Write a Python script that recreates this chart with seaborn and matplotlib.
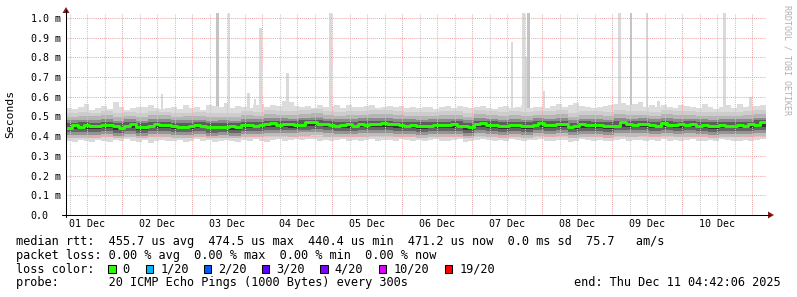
import numpy as np
import pandas as pd
import matplotlib
matplotlib.use("Agg")
import matplotlib.pyplot as plt
import seaborn as sns
from matplotlib.lines import Line2D
from matplotlib.patches import Rectangle, Polygon

# ---------------- data (milliseconds, 2-hour bins from Dec 1 04:42) ----------------
median_rtt = [
    0.443, 0.455, 0.447, 0.455, 0.452, 0.452, 0.455, 0.458, 0.452, 0.441,
    0.450, 0.460, 0.446, 0.449, 0.451, 0.461, 0.455, 0.458, 0.452, 0.449,
    0.449, 0.452, 0.456, 0.452, 0.449, 0.449, 0.449, 0.449, 0.452, 0.445,
    0.458, 0.455, 0.452, 0.458, 0.460, 0.465, 0.458, 0.462, 0.462, 0.456,
    0.458, 0.470, 0.474, 0.460, 0.460, 0.458, 0.453, 0.455, 0.460, 0.452,
    0.460, 0.458, 0.460, 0.462, 0.465, 0.460, 0.460, 0.455, 0.452, 0.458,
    0.452, 0.452, 0.452, 0.458, 0.455, 0.458, 0.462, 0.452, 0.452, 0.445,
    0.460, 0.465, 0.458, 0.458, 0.452, 0.452, 0.455, 0.458, 0.452, 0.452,
    0.455, 0.465, 0.458, 0.458, 0.463, 0.460, 0.447, 0.452, 0.460, 0.455,
    0.455, 0.458, 0.452, 0.452, 0.452, 0.470, 0.460, 0.458, 0.460, 0.460,
    0.458, 0.450, 0.466, 0.458, 0.455, 0.460, 0.458, 0.460, 0.452, 0.456,
    0.452, 0.452, 0.458, 0.452, 0.452, 0.456, 0.452, 0.460, 0.455, 0.471,
]

smoke_top = [
    0.545, 0.540, 0.548, 0.565, 0.535, 0.545, 0.555, 0.540, 0.575, 0.548,
    0.535, 0.545, 0.550, 0.548, 0.560, 0.545, 0.538, 0.545, 0.550, 0.540,
    0.560, 0.545, 0.548, 0.535, 0.560, 0.555, 0.548, 0.570, 0.545, 0.552,
    0.548, 0.545, 0.558, 0.565, 0.548, 0.560, 0.553, 0.580, 0.575, 0.555,
    0.550, 0.555, 0.545, 0.560, 0.548, 0.552, 0.558, 0.545, 0.560, 0.550,
    0.548, 0.555, 0.560, 0.545, 0.550, 0.555, 0.548, 0.552, 0.545, 0.550,
    0.545, 0.548, 0.550, 0.540, 0.548, 0.552, 0.545, 0.555, 0.550, 0.543,
    0.548, 0.552, 0.545, 0.540, 0.548, 0.555, 0.545, 0.550, 0.558, 0.545,
    0.550, 0.548, 0.545, 0.555, 0.565, 0.548, 0.560, 0.570, 0.555, 0.548,
    0.545, 0.550, 0.552, 0.560, 0.565, 0.570, 0.558, 0.562, 0.575, 0.550,
    0.558, 0.548, 0.560, 0.548, 0.545, 0.560, 0.555, 0.548, 0.545, 0.565,
    0.550, 0.540, 0.548, 0.558, 0.545, 0.565, 0.550, 0.555, 0.552, 0.560,
]

smoke_bottom = [
    0.378, 0.372, 0.380, 0.375, 0.370, 0.382, 0.376, 0.372, 0.380, 0.374,
    0.385, 0.376, 0.372, 0.380, 0.368, 0.378, 0.382, 0.374, 0.376, 0.380,
    0.372, 0.378, 0.384, 0.375, 0.380, 0.372, 0.378, 0.382, 0.376, 0.370,
    0.380, 0.376, 0.384, 0.378, 0.372, 0.380, 0.386, 0.378, 0.382, 0.384,
    0.380, 0.388, 0.384, 0.378, 0.382, 0.376, 0.380, 0.384, 0.378, 0.382,
    0.376, 0.380, 0.384, 0.378, 0.382, 0.380, 0.376, 0.384, 0.380, 0.378,
    0.382, 0.376, 0.380, 0.384, 0.378, 0.374, 0.380, 0.384, 0.372, 0.378,
    0.382, 0.386, 0.380, 0.376, 0.382, 0.378, 0.384, 0.380, 0.376, 0.382,
    0.380, 0.384, 0.378, 0.376, 0.382, 0.380, 0.372, 0.378, 0.384, 0.380,
    0.376, 0.382, 0.378, 0.374, 0.380, 0.384, 0.378, 0.382, 0.380, 0.376,
    0.380, 0.376, 0.384, 0.378, 0.382, 0.374, 0.380, 0.384, 0.378, 0.376,
    0.382, 0.378, 0.384, 0.380, 0.374, 0.378, 0.382, 0.376, 0.380, 0.384,
]

# inner smoke levels, 4-hour bins
smoke_u3 = [
    0.518, 0.522, 0.520, 0.527, 0.516, 0.524, 0.518, 0.527, 0.525, 0.520,
    0.519, 0.525, 0.517, 0.520, 0.517, 0.526, 0.524, 0.532, 0.530, 0.528,
    0.534, 0.536, 0.528, 0.524, 0.526, 0.529, 0.531, 0.532, 0.527, 0.524,
    0.522, 0.525, 0.526, 0.527, 0.519, 0.532, 0.528, 0.521, 0.526, 0.522,
    0.530, 0.528, 0.531, 0.519, 0.527, 0.526, 0.522, 0.531, 0.529, 0.530,
    0.524, 0.532, 0.527, 0.529, 0.524, 0.522, 0.525, 0.524, 0.526, 0.533,
]
smoke_u2 = [
    0.500, 0.503, 0.502, 0.508, 0.497, 0.505, 0.498, 0.507, 0.506, 0.500,
    0.501, 0.505, 0.498, 0.500, 0.497, 0.506, 0.505, 0.512, 0.510, 0.508,
    0.514, 0.517, 0.509, 0.504, 0.506, 0.510, 0.511, 0.512, 0.507, 0.505,
    0.502, 0.505, 0.507, 0.507, 0.499, 0.512, 0.508, 0.502, 0.506, 0.502,
    0.510, 0.508, 0.511, 0.500, 0.507, 0.506, 0.502, 0.511, 0.509, 0.510,
    0.504, 0.512, 0.507, 0.509, 0.504, 0.502, 0.505, 0.504, 0.506, 0.513,
]
smoke_u1 = [
    0.480, 0.482, 0.484, 0.487, 0.478, 0.486, 0.479, 0.488, 0.485, 0.481,
    0.482, 0.484, 0.479, 0.481, 0.478, 0.487, 0.486, 0.492, 0.490, 0.489,
    0.494, 0.497, 0.489, 0.485, 0.487, 0.490, 0.491, 0.493, 0.487, 0.486,
    0.483, 0.486, 0.487, 0.488, 0.480, 0.492, 0.489, 0.483, 0.487, 0.483,
    0.490, 0.489, 0.492, 0.481, 0.488, 0.486, 0.483, 0.491, 0.489, 0.491,
    0.485, 0.492, 0.487, 0.489, 0.485, 0.483, 0.486, 0.485, 0.487, 0.494,
]
smoke_u0 = [
    0.467, 0.470, 0.469, 0.474, 0.465, 0.472, 0.466, 0.474, 0.473, 0.468,
    0.468, 0.471, 0.466, 0.467, 0.466, 0.474, 0.472, 0.479, 0.477, 0.476,
    0.481, 0.484, 0.476, 0.472, 0.474, 0.476, 0.479, 0.479, 0.474, 0.473,
    0.470, 0.473, 0.474, 0.475, 0.467, 0.479, 0.476, 0.470, 0.474, 0.470,
    0.477, 0.476, 0.478, 0.468, 0.475, 0.473, 0.470, 0.478, 0.476, 0.477,
    0.472, 0.479, 0.474, 0.476, 0.472, 0.470, 0.473, 0.472, 0.474, 0.481,
]
smoke_l0 = [
    0.435, 0.437, 0.438, 0.441, 0.433, 0.440, 0.434, 0.442, 0.441, 0.436,
    0.436, 0.440, 0.435, 0.435, 0.434, 0.442, 0.441, 0.447, 0.446, 0.444,
    0.450, 0.452, 0.445, 0.440, 0.442, 0.445, 0.447, 0.448, 0.443, 0.441,
    0.438, 0.441, 0.442, 0.443, 0.434, 0.447, 0.444, 0.438, 0.442, 0.438,
    0.446, 0.444, 0.447, 0.435, 0.443, 0.442, 0.438, 0.447, 0.445, 0.446,
    0.440, 0.448, 0.443, 0.445, 0.440, 0.438, 0.441, 0.440, 0.442, 0.448,
]
smoke_l1 = [
    0.419, 0.421, 0.422, 0.426, 0.417, 0.425, 0.418, 0.426, 0.426, 0.420,
    0.420, 0.424, 0.418, 0.419, 0.418, 0.426, 0.425, 0.432, 0.430, 0.429,
    0.434, 0.437, 0.429, 0.424, 0.426, 0.429, 0.431, 0.432, 0.427, 0.425,
    0.422, 0.425, 0.426, 0.427, 0.418, 0.432, 0.428, 0.422, 0.426, 0.422,
    0.430, 0.428, 0.431, 0.419, 0.427, 0.426, 0.422, 0.431, 0.429, 0.430,
    0.424, 0.432, 0.427, 0.429, 0.424, 0.422, 0.425, 0.424, 0.426, 0.433,
]
smoke_l2 = [
    0.404, 0.406, 0.407, 0.411, 0.402, 0.410, 0.403, 0.411, 0.411, 0.405,
    0.405, 0.409, 0.403, 0.404, 0.403, 0.411, 0.410, 0.417, 0.415, 0.414,
    0.419, 0.422, 0.414, 0.409, 0.411, 0.414, 0.416, 0.417, 0.412, 0.410,
    0.407, 0.410, 0.411, 0.412, 0.403, 0.417, 0.413, 0.407, 0.411, 0.407,
    0.415, 0.413, 0.416, 0.404, 0.412, 0.411, 0.407, 0.416, 0.414, 0.415,
    0.409, 0.417, 0.412, 0.414, 0.409, 0.407, 0.410, 0.409, 0.411, 0.418,
]
smoke_l3 = [
    0.391, 0.392, 0.393, 0.396, 0.389, 0.395, 0.390, 0.396, 0.396, 0.391,
    0.391, 0.394, 0.390, 0.390, 0.389, 0.396, 0.395, 0.400, 0.399, 0.398,
    0.402, 0.404, 0.398, 0.394, 0.396, 0.398, 0.400, 0.400, 0.396, 0.395,
    0.392, 0.395, 0.396, 0.396, 0.390, 0.400, 0.397, 0.392, 0.396, 0.392,
    0.399, 0.397, 0.400, 0.390, 0.396, 0.396, 0.392, 0.400, 0.398, 0.399,
    0.394, 0.400, 0.396, 0.398, 0.394, 0.392, 0.395, 0.394, 0.396, 0.401,
]

# outlier columns (hours since Dec 1 00:00, top in ms, dark = several pings high)
spike_hours = [37.6, 56.5, 60.6, 67.4, 69.5, 71.5, 80.5, 95.5, 157.6, 161.4,
               162.4, 163.4, 168.6, 194.6, 198.4, 203.9, 207.7, 230.6, 239.5]
spike_tops = [0.615, 1.03, 1.03, 0.62, 0.59, 0.95, 0.72, 1.03, 0.88, 1.03,
              0.80, 1.03, 0.63, 1.03, 1.03, 1.03, 0.58, 1.03, 0.60]
spike_dark = [0, 1, 0, 0, 0, 0, 0, 0, 0, 0, 0, 1, 0, 0, 1, 0, 0, 0, 0]

day_labels = ["01 Dec", "02 Dec", "03 Dec", "04 Dec", "05 Dec",
              "06 Dec", "07 Dec", "08 Dec", "09 Dec", "10 Dec"]
y_ticks = [0.0, 0.1, 0.2, 0.3, 0.4, 0.5, 0.6, 0.7, 0.8, 0.9, 1.0]
y_labels = ["0.0", "0.1 m", "0.2 m", "0.3 m", "0.4 m", "0.5 m",
            "0.6 m", "0.7 m", "0.8 m", "0.9 m", "1.0 m"]

loss_labels = ["0", "1/20", "2/20", "3/20", "4/20", "10/20", "19/20"]
loss_colors = ["#26ff00", "#00b8ff", "#0059ff", "#5e00ff", "#7e00ff", "#dd00ff", "#ff0000"]

line_rtt = "median rtt:  455.7 us avg  474.5 us max  440.4 us min  471.2 us now  0.0 ms sd  75.7   am/s"
line_loss = "packet loss: 0.00 % avg  0.00 % max  0.00 % min  0.00 % now"
line_color = "loss color:"
line_probe = "probe:       20 ICMP Echo Pings (1000 Bytes) every 300s"
line_end = "end: Thu Dec 11 04:42:06 2025"

# ---------------- figure ----------------
sns.set_theme(style="white")
plt.rcParams["font.family"] = ["DejaVu Sans Mono"]

W, H = 797, 297
def fx(x):
    return x / W
def fy(y):
    return 1 - y / H

fig = plt.figure(figsize=(W / 100, H / 100), dpi=100, facecolor="white")
ax = fig.add_axes([fx(66), fy(215), (766 - 66) / W, (215 - 13) / H])
ax.set_facecolor("white")
for s in ax.spines.values():
    s.set_visible(False)

T0 = 4.7
ax.set_xlim(T0, T0 + 240)
ax.set_ylim(0, (215 - 13) / 197)

n = len(median_rtt)
edges = T0 + 2.0 * np.arange(n + 1)

def ext(a):
    a = np.asarray(a, dtype=float)
    return np.append(a, a[-1])

def ext4(a):
    return ext(np.repeat(np.asarray(a, dtype=float), 2))

# outlier spikes
sp_h = np.asarray(spike_hours)
sp_t = np.asarray(spike_tops)
sp_c = ["#c4c4c4" if d else "#dadada" for d in spike_dark]
ax.bar(sp_h, sp_t - 0.5, bottom=0.5, width=1.0, color=sp_c, linewidth=0, zorder=1)

levels = [ext(smoke_top), ext4(smoke_u3), ext4(smoke_u2), ext4(smoke_u1), ext4(smoke_u0),
          ext(median_rtt), ext4(smoke_l0), ext4(smoke_l1), ext4(smoke_l2), ext4(smoke_l3),
          ext(smoke_bottom)]
shades = ["#dcdcdc", "#cdcdcd", "#b4b4b4", "#8c8c8c", "#5c5c5c",
          "#363636", "#666666", "#949494", "#bdbdbd", "#d9d9d9"]
for i, c in enumerate(shades):
    ax.fill_between(edges, levels[i], levels[i + 1], step="post", color=c,
                    linewidth=0, antialiased=False, zorder=2)

# grid (drawn over the smoke, as rrdtool does)
dot = (0, (1, 1))
for h in range(6, 241, 6):
    if h % 24 == 0:
        ax.axvline(h, color="#eeaaaa", lw=0.75, ls=dot, zorder=3)
    else:
        ax.axvline(h, color="#c8c8c8", lw=0.75, ls=dot, zorder=3)
for v in y_ticks[1:]:
    ax.axhline(v, color="#eeaaaa", lw=0.75, ls=dot, zorder=3)

# median line
df = pd.DataFrame({"t": edges, "rtt": ext(median_rtt)})
sns.lineplot(data=df, x="t", y="rtt", drawstyle="steps-post", color="#26ff00",
             linewidth=2.1, estimator=None, legend=False, ax=ax, zorder=5)
ax.set_xlabel("")
ax.set_ylabel("")

# ticks
ax.set_xticks([12 + 24 * k for k in range(10)])
ax.set_xticklabels(day_labels)
ax.tick_params(axis="x", length=0, pad=3, labelsize=7.2, colors="#000000")
ax.set_yticks(y_ticks)
ax.set_yticklabels(y_labels)
ax.tick_params(axis="y", length=0, pad=25.4, labelsize=7.2, colors="#000000")
for t in ax.get_yticklabels():
    t.set_horizontalalignment("left")

# axes with arrows
fig.add_artist(Line2D([fx(62), fx(770)], [fy(215), fy(215)], color="black", lw=0.75))
fig.add_artist(Line2D([fx(66), fx(66)], [fy(217), fy(10)], color="black", lw=0.75))
fig.add_artist(Polygon([(fx(768), fy(211.5)), (fx(774), fy(215)), (fx(768), fy(218.5))],
                       closed=True, color="#8b1a1a", lw=0))
fig.add_artist(Polygon([(fx(62.5), fy(13)), (fx(66), fy(7)), (fx(69.5), fy(13))],
                       closed=True, color="#8b1a1a", lw=0))

# axis title and watermark
fig.text(fx(10.5), fy(114), "Seconds", rotation=90, ha="center", va="center",
         fontsize=8.2, color="black")
fig.text(fx(787), fy(60), "RRDTOOL / TOBI OETIKER", rotation=270, ha="center",
         va="center", fontsize=6.0, color="#b0b0b0")

# legend block
fs = 8.53
fig.text(fx(16), fy(241.7), line_rtt, ha="left", va="center", fontsize=fs, color="black")
fig.text(fx(16), fy(255.3), line_loss, ha="left", va="center", fontsize=fs, color="black")
fig.text(fx(16), fy(269.3), line_color, ha="left", va="center", fontsize=fs, color="black")
fig.text(fx(16), fy(282.7), line_probe, ha="left", va="center", fontsize=fs, color="black")
fig.text(fx(781), fy(282.7), line_end, ha="right", va="center", fontsize=fs, color="black")

box_x = [108.2, 146.0, 204.0, 262.0, 320.3, 378.6, 444.9]
for bx, lab, col in zip(box_x, loss_labels, loss_colors):
    fig.add_artist(Rectangle((fx(bx), fy(273.3)), 7.4 / W, 8.0 / H, facecolor=col,
                             edgecolor="black", lw=0.75))
    fig.text(fx(bx + 14.5), fy(269.3), lab, ha="left", va="center", fontsize=fs, color="black")

fig.savefig("out.png", dpi=100, facecolor="white")
